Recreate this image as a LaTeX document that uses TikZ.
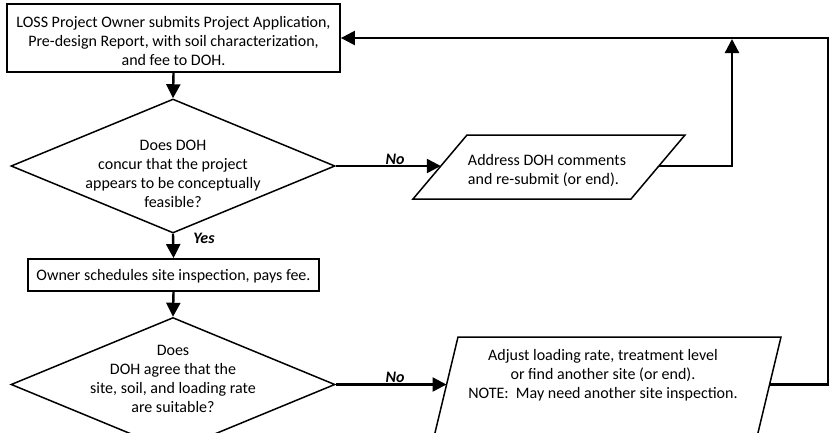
\documentclass[tikz,border=0pt]{standalone}
\usepackage{fontspec}
\setmainfont{Carlito}
\usetikzlibrary{shapes.geometric,arrows.meta,calc}
\begin{document}
\begin{tikzpicture}[x=1pt,y=-1pt,
  every node/.style={font=\fontsize{16}{19}\selectfont, inner sep=0pt},
  boxnode/.style={draw, line width=1.8pt, rectangle, align=center},
  dianode/.style={draw, line width=1.5pt, diamond, inner sep=2pt},
  shapeline/.style={draw, line width=1.5pt, line join=miter},
  txt/.style={align=center},
  lbl/.style={font=\fontsize{16}{19}\selectfont\bfseries\itshape},
  arr/.style={line width=2.4pt, -{Triangle[length=14pt,width=14pt]}}]
\useasboundingbox (0,0) rectangle (836,432);
\clip (0,0) rectangle (836,432);
% nodes
\node[boxnode, minimum width=333pt, minimum height=68pt] (b1) at (173.5,38) {};
\node[txt] (t0) at (173.5,41.5)
  {LOSS Project Owner submits Project Application,\\Pre-design Report, with soil characterization,\\and fee to DOH.};
\node[dianode, minimum width=324pt, minimum height=134pt] (d1) at (173,166) {};
\node[txt] (t1) at (173,174) {Does DOH\\concur that the project\\appears to be conceptually\\feasible?};
% parallelogram 1
\coordinate (p1tl) at (467,135);
\coordinate (p1tr) at (685,135);
\coordinate (p1br) at (631,199);
\coordinate (p1bl) at (413,199);
\coordinate (p1l) at (440.8,166);
\coordinate (p1r) at (658.8,166);
\draw[shapeline] (p1tl) -- (p1tr) -- (p1br) -- (p1bl) -- cycle;
\node[align=left] (t2) at (547,171) {Address DOH comments\\and re-submit (or end).};
\node[boxnode, minimum width=291pt, minimum height=32pt] (b2) at (173.5,275) {};
\node[txt] (t5) at (173.5,276.5) {Owner schedules site inspection, pays fee.};
\node[dianode, minimum width=324pt, minimum height=134pt] (d2) at (173,384.5) {};
\node[txt] (t3) at (173,379) {Does\\DOH agree that the\\site, soil, and loading rate\\are suitable?};
% parallelogram 2
\coordinate (p2tl) at (458,337);
\coordinate (p2tr) at (781,337);
\coordinate (p2br) at (757.7,434);
\coordinate (p2bl) at (434.7,434);
\coordinate (p2l) at (446.5,384.5);
\coordinate (p2r) at (769.5,384.5);
\draw[shapeline] (p2tl) -- (p2tr) -- (p2br) -- (p2bl) -- cycle;
\node[txt] (t4) at (603,375) {Adjust loading rate, treatment level\\or find another site (or end).\\NOTE:\ \ May need another site inspection.};
% labels
\node[lbl] (no1) at (395,159) {No};
\node[lbl] (yes1) at (204,238) {Yes};
\node[lbl] (no2) at (395,377) {No};
% coordinates
\coordinate (rt) at (828,39);
\coordinate (jn) at (732,39);
% connectors
\draw[arr] (b1.south) -- (d1.north);
\draw[arr] (d1.south) -- (b2.north);
\draw[arr] (b2.south) -- (d2.north);
\draw[arr] (d1.east) -- (p1l);
\draw[arr] (p1r) -| (jn);
\draw[arr] (d2.east) -- (p2l);
\draw[arr] (p2r) -| (rt) -- (rt |- b1.east) -- (b1.east);
\end{tikzpicture}
\end{document}
